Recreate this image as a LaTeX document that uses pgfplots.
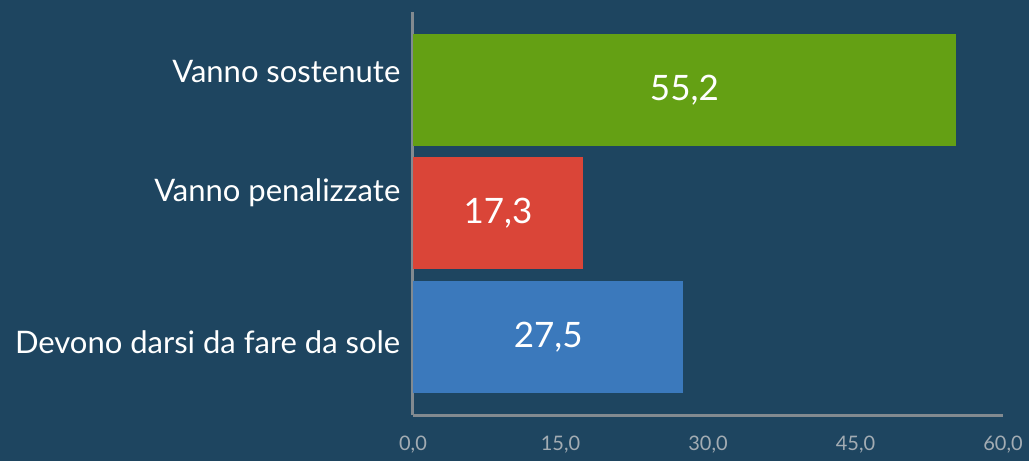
\documentclass[border=0pt]{standalone}
\usepackage{fontspec}
\setmainfont{Lato}
\usepackage{pgfplots}
\pgfplotsset{compat=1.18}
\usepackage{pgfplotstable}
\usetikzlibrary{backgrounds}
\definecolor{bg}{HTML}{1E4560}
\definecolor{cgreen}{HTML}{64A014}
\definecolor{cred}{HTML}{DA4538}
\definecolor{cblue}{HTML}{3B79BC}
\definecolor{axgray}{HTML}{828A90}
\definecolor{tickgray}{HTML}{A3ACB3}

\pgfplotstableread{
y v
0 27.5
1 17.3
2 55.2
}\values

\begin{document}
\begin{tikzpicture}
\useasboundingbox (-206.5pt,-23pt) rectangle (308pt,207.5pt);
\clip (-206.5pt,-23pt) rectangle (308pt,207.5pt);
\begin{axis}[
  at={(0pt,0pt)}, anchor=south west,
  scale only axis, width=295pt, height=201.5pt,
  xbar, bar width=56pt, bar shift=0pt,
  xmin=0, xmax=60, ymin=-0.632, ymax=2.632,
  axis lines=left, axis line style={-, draw=axgray, line width=1.5pt},
  xtick={0,15,30,45,60},
  % category labels sit slightly off the bar centres, as in the original
  ytick={-0.045,1.17,2.15},
  yticklabels={Devono darsi da fare da sole, Vanno penalizzate, Vanno sostenute},
  major tick length=0pt,
  xticklabel style={font=\fontsize{10}{12}\selectfont, text=tickgray, yshift=-7pt},
  yticklabel style={font=\fontsize{15.5}{18}\selectfont, text=white, xshift=-2.8pt},
  /pgf/number format/assume math mode=true,
  /pgf/number format/.cd, fixed, fixed zerofill, precision=1, use comma,
]
  \addplot[fill=cblue, draw=none] coordinates {(27.5,0)};
  \addplot[fill=cred, draw=none] coordinates {(17.3,1)};
  \addplot[fill=cgreen, draw=none] coordinates {(55.2,2)};
  % value labels centred in the bars
  \addplot[draw=none, xbar=0pt, bar width=0pt, fill=none,
    nodes near coords, point meta=explicit,
    every node near coord/.style={anchor=center, text=white,
      font=\fontsize{17.5}{21}\selectfont},
    nodes near coords align={center}]
    table[x expr=\thisrow{v}/2, y=y, meta=v] {\values};
\end{axis}
\begin{pgfonlayer}{background}
  \fill[bg] (-206.5pt,-23pt) rectangle (308pt,207.5pt);
\end{pgfonlayer}
\end{tikzpicture}
\end{document}
